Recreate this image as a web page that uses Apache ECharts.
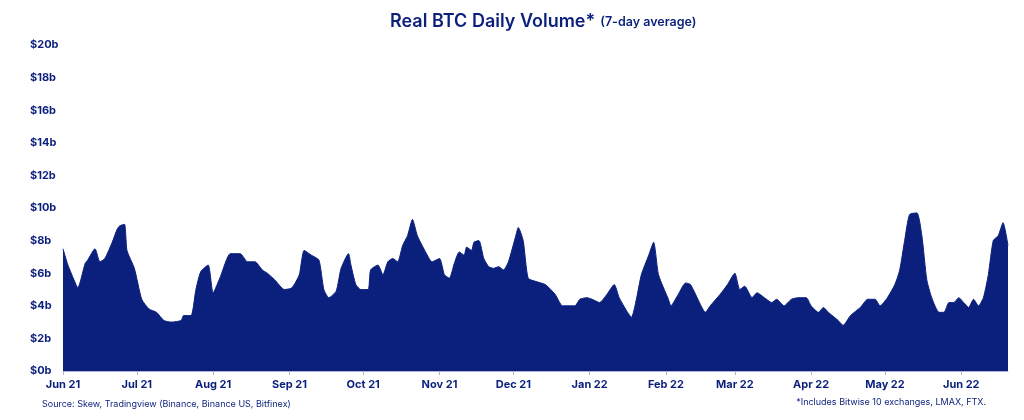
<!DOCTYPE html>
<html><head><meta charset="utf-8">
<script src="https://cdn.jsdelivr.net/npm/echarts@6/dist/echarts.min.js"></script>
<style>html,body{margin:0;padding:0;background:#fff}#c{width:1024px;height:420px}</style>
</head><body><div id="c"></div>
<script>
// day offsets from 2021-06-01
const dayOffsets = [0,2,5,6,9,10,13,15,17,20,22,23,25,26,29,32,35,38,41,44,48,49,52,54,56,59,61,64,68,72,75,78,81,83,86,90,93,96,98,101,104,106,108,111,113,116,117,119,121,124,125,128,130,132,134,136,138,140,142,144,147,150,153,155,157,159,161,163,164,166,167,169,171,173,175,177,179,181,184,185,187,189,192,196,200,203,208,210,213,215,218,221,224,226,229,231,233,235,238,240,242,246,247,250,253,255,258,261,263,267,270,273,275,277,280,282,285,288,290,293,296,299,302,304,307,309,311,315,317,320,324,327,330,332,335,338,340,342,344,347,349,351,353,356,358,360,362,364,366,368,370,372,374,376,378,380,382,384];
// volume in $ billions
const volumes = [7.5,6.5,5.4,5.1,6.6,6.8,7.5,6.7,6.9,7.9,8.7,8.9,9.0,7.4,6.3,4.4,3.8,3.6,3.1,3.0,3.1,3.4,3.4,5.0,6.1,6.5,4.8,5.8,7.2,7.2,6.7,6.7,6.2,6.0,5.6,5.0,5.1,5.9,7.4,7.1,6.8,5.0,4.5,4.9,6.3,7.2,6.5,5.3,5.0,5.0,6.2,6.5,5.9,6.7,6.9,6.7,7.7,8.3,9.3,8.3,7.4,6.7,6.9,5.9,5.7,6.6,7.3,7.1,7.6,7.4,7.9,8.0,6.9,6.4,6.3,6.4,6.2,6.7,8.3,8.8,8.0,5.7,5.5,5.3,4.7,4.0,4.0,4.4,4.5,4.4,4.2,4.7,5.3,4.5,3.7,3.3,4.4,5.9,7.1,7.9,5.9,4.4,4.0,4.7,5.4,5.3,4.4,3.6,4.0,4.7,5.3,6.0,5.0,5.2,4.5,4.8,4.5,4.2,4.4,4.0,4.4,4.5,4.5,4.0,3.6,3.9,3.6,3.1,2.8,3.4,3.9,4.4,4.4,4.0,4.5,5.3,6.2,8.0,9.6,9.7,8.3,5.6,4.5,3.6,3.6,4.2,4.2,4.5,4.2,3.9,4.4,4.0,4.5,5.9,8.0,8.3,9.1,7.7];
const yTicks = [0,2,4,6,8,10,12,14,16,18,20];
const titleMain = 'Real BTC Daily Volume*';
const titleSub = '(7-day average)';
const sourceText = 'Source: Skew, Tradingview (Binance, Binance US, Bitfinex)';
const noteText = '*Includes Bitwise 10 exchanges, LMAX, FTX.';

const start = Date.UTC(2021,5,1);
const DAY = 86400000;
const data = dayOffsets.map((d,i)=>[start + d*DAY, volumes[i]]);
const MON = ['Jan','Feb','Mar','Apr','May','Jun','Jul','Aug','Sep','Oct','Nov','Dec'];
const navy = '#0b1f7c';
const chart = echarts.init(document.getElementById('c'), null, {renderer:'canvas'});
chart.setOption({
  animation:false,
  useUTC:true,
  title:{text:'{a|'+titleMain+'} {b|'+titleSub+'}',left:385,top:8,
    textStyle:{rich:{a:{fontFamily:'Inter',fontWeight:600,fontSize:18,color:navy},
      b:{fontFamily:'Inter',fontWeight:600,fontSize:12.5,color:navy}}}},
  graphic:[
    {type:'text',left:42,top:400,style:{text:sourceText,fill:navy,font:'9px Inter'}},
    {type:'text',right:38,top:398,style:{text:noteText,fill:navy,font:'9px Inter'}}
  ],
  grid:{left:63,right:16,top:45,bottom:49},
  xAxis:{type:'time',min:start,max:start+384*DAY,
    minInterval:28*DAY,maxInterval:31*DAY,
    axisLine:{show:true,lineStyle:{color:'#a8b4d8'}},
    axisTick:{show:true,length:4,lineStyle:{color:'#a8b4d8'}},
    splitLine:{show:false},
    axisLabel:{color:navy,fontFamily:'Inter',fontWeight:'bold',fontSize:11,margin:8,showMinLabel:true,
      formatter:v=>{const d=new Date(v);return MON[d.getUTCMonth()]+' '+String(d.getUTCFullYear()).slice(2);}}},
  yAxis:{type:'value',min:0,max:20,interval:2,
    axisLine:{show:false},axisTick:{show:false},splitLine:{show:false},
    axisLabel:{color:navy,fontFamily:'Inter',fontWeight:'bold',fontSize:11,align:'left',margin:33,
      formatter:v=>yTicks.includes(v)?'$'+v+'b':''}},
  series:[{type:'line',data:data,smooth:0.2,symbol:'none',
    lineStyle:{width:1,color:navy},areaStyle:{color:navy,opacity:1}}]
});
</script></body></html>
